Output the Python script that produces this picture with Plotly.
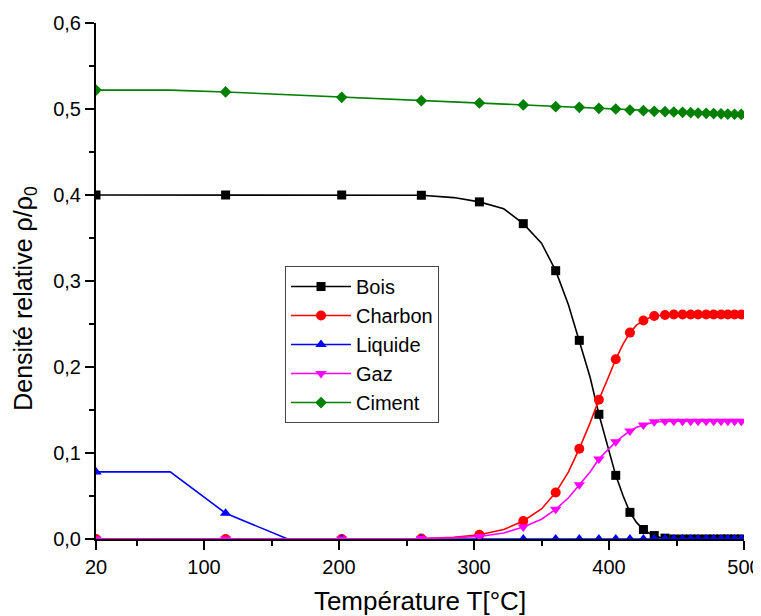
import plotly.graph_objects as go

# Temperature samples (line points); markers on every other sample
temperature = [20, 75, 116, 162, 202, 234, 261, 285, 304, 322, 336.5, 350, 360.5, 370,
               378, 386, 392.5, 399, 405, 410.5, 415.5, 420.5, 425.5, 429.5, 433.5, 437.5,
               441.5, 445, 448, 451, 454.5, 457.5, 460.5, 463, 466, 469, 472, 475, 477.5,
               480, 483, 485.5, 488, 490.5, 493, 495.5, 498, 500]

bois = [0.400, 0.400, 0.400, 0.400, 0.400, 0.400, 0.3997, 0.397, 0.392, 0.384, 0.3667,
        0.344, 0.312, 0.272, 0.231, 0.188, 0.145, 0.108, 0.074, 0.050, 0.031, 0.019,
        0.011, 0.007, 0.004, 0.002, 0.001, 0.0005, 0, 0, 0, 0, 0, 0, 0, 0, 0, 0, 0, 0,
        0, 0, 0, 0, 0, 0, 0, 0]

charbon = [0, 0, 0, 0, 0, 0, 0.0005, 0.002, 0.005, 0.011, 0.021, 0.035, 0.054, 0.078,
           0.105, 0.135, 0.162, 0.186, 0.209, 0.227, 0.240, 0.249, 0.254, 0.257, 0.2593,
           0.260, 0.2605, 0.261, 0.261, 0.261, 0.261, 0.261, 0.261, 0.261, 0.261, 0.261,
           0.261, 0.261, 0.261, 0.261, 0.261, 0.261, 0.261, 0.261, 0.261, 0.261, 0.261,
           0.261]

liquide = [0.078, 0.078, 0.030, 0, 0, 0, 0, 0, 0, 0, 0, 0, 0, 0, 0, 0, 0, 0, 0, 0, 0,
           0, 0, 0, 0, 0, 0, 0, 0, 0, 0, 0, 0, 0, 0, 0, 0, 0, 0, 0, 0, 0, 0, 0, 0, 0, 0, 0]

gaz = [0, 0, 0, 0, 0, 0, 0.0005, 0.0015, 0.003, 0.007, 0.014, 0.023, 0.0345, 0.048,
       0.063, 0.078, 0.093, 0.104, 0.113, 0.120, 0.1256, 0.130, 0.1326, 0.135, 0.1362,
       0.1365, 0.137, 0.137, 0.137, 0.137, 0.137, 0.137, 0.137, 0.137, 0.137, 0.137,
       0.137, 0.137, 0.137, 0.137, 0.137, 0.137, 0.137, 0.137, 0.137, 0.137, 0.137, 0.137]

ciment = [0.522, 0.522, 0.5198, 0.5166, 0.5136, 0.5115, 0.5097, 0.5082, 0.507, 0.5058,
          0.5047, 0.5036, 0.5027, 0.5023, 0.502, 0.5013, 0.5008, 0.5004, 0.500, 0.4994,
          0.4988, 0.4984, 0.498, 0.4976, 0.4973, 0.4971, 0.4969, 0.4967, 0.4965, 0.4963,
          0.4961, 0.4959, 0.4957, 0.4955, 0.4953, 0.4951, 0.495, 0.4948, 0.4947, 0.4946,
          0.4944, 0.4942, 0.4941, 0.494, 0.4939, 0.4938, 0.4937, 0.4936]

series_names = ["Bois", "Charbon", "Liquide", "Gaz", "Ciment"]

x_tickvals = [20, 100, 200, 300, 400, 500]
x_ticktext = ["20", "100", "200", "300", "400", "500"]
x_minor = [50, 150, 250, 350, 450]
y_tickvals = [0.0, 0.1, 0.2, 0.3, 0.4, 0.5, 0.6]
y_ticktext = ["0,0", "0,1", "0,2", "0,3", "0,4", "0,5", "0,6"]
y_minor = [0.05, 0.15, 0.25, 0.35, 0.45, 0.55]

x_title = "Température T[°C]"
y_title = "Densité relative ρ/ρ<sub>0</sub>"

series = [bois, charbon, liquide, gaz, ciment]
colors = ["#000000", "#FF0000", "#0000FF", "#FF00FF", "#008000"]
symbols = ["square", "circle", "triangle-up", "triangle-down", "diamond"]
sizes = [9, 10, 10, 10, 9]

FONT = "Liberation Sans, Arial, sans-serif"

fig = go.Figure()
for name, vals, col, sym, sz in zip(series_names, series, colors, symbols, sizes):
    fig.add_trace(go.Scatter(x=temperature, y=vals, mode="lines",
                             line=dict(color=col, width=1.6),
                             showlegend=False, hoverinfo="skip"))
    fig.add_trace(go.Scatter(x=temperature[::2], y=vals[::2], mode="markers",
                             marker=dict(symbol=sym, size=sz, color=col,
                                         line=dict(width=0)),
                             showlegend=False, name=name))
    fig.add_trace(go.Scatter(x=[None], y=[None], mode="lines+markers", name=name,
                             line=dict(color=col, width=1.6),
                             marker=dict(symbol=sym, size=sz, color=col,
                                         line=dict(width=0))))

axis_common = dict(showgrid=False, zeroline=False, showline=True,
                   linecolor="black", linewidth=2, automargin=False)

fig.update_layout(
    width=761, height=608,
    margin=dict(l=88, r=25, t=15, b=77),
    paper_bgcolor="white", plot_bgcolor="white",
    font=dict(family=FONT, color="black", size=20),
    xaxis=dict(range=[20, 500], tickvals=x_tickvals, ticktext=x_ticktext,
               ticks="outside", ticklen=9, tickwidth=1.5, tickcolor="black",
               tickfont=dict(size=20),
               minor=dict(tickvals=x_minor, ticks="outside", ticklen=5,
                          tickwidth=1.5, tickcolor="black"),
               title=dict(text=x_title, font=dict(size=26), standoff=19),
               **axis_common),
    yaxis=dict(range=[0, 0.6], tickvals=y_tickvals, ticktext=y_ticktext,
               ticks="outside", ticklen=9, tickwidth=1.5, tickcolor="black",
               tickfont=dict(size=20),
               minor=dict(tickvals=y_minor, ticks="outside", ticklen=5,
                          tickwidth=1.5, tickcolor="black"),
               **axis_common),
    xaxis2=dict(range=[20, 500], overlaying="x", side="top", anchor="y",
                tickvals=x_tickvals, showticklabels=False,
                ticks="inside", ticklen=5, tickwidth=1.5, tickcolor="black",
                minor=dict(tickvals=x_minor, ticks="inside", ticklen=3,
                           tickwidth=1.5, tickcolor="black"),
                **axis_common),
    yaxis2=dict(range=[0, 0.6], overlaying="y", side="right", anchor="x",
                tickvals=y_tickvals, showticklabels=False,
                ticks="inside", ticklen=5, tickwidth=1.5, tickcolor="black",
                minor=dict(tickvals=y_minor, ticks="inside", ticklen=3,
                           tickwidth=1.5, tickcolor="black"),
                **axis_common),
    legend=dict(x=0.2917, y=0.529, xanchor="left", yanchor="top",
                bgcolor="white", bordercolor="#444444", borderwidth=1,
                font=dict(size=20, family=FONT), itemwidth=60,
                tracegroupgap=0),
    showlegend=True,
    annotations=[dict(text=y_title, textangle=-90, xref="paper", yref="paper",
                      x=-0.11, y=0.467, xanchor="center", yanchor="middle",
                      showarrow=False, font=dict(size=25, family=FONT))],
)

fig.write_html("out.html")
